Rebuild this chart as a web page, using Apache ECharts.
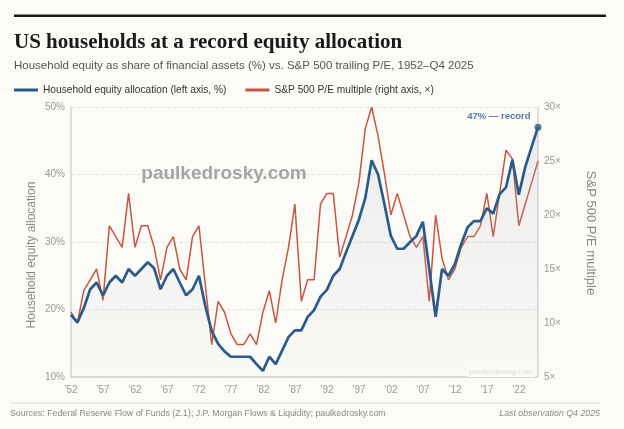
<!DOCTYPE html>
<html>
<head>
<meta charset="utf-8">
<script src="https://cdn.jsdelivr.net/npm/echarts@6/dist/echarts.min.js"></script>
<style>
  html, body { margin: 0; padding: 0; background: #fcfbf7; }
  #chart { width: 624px; height: 429px; }
</style>
</head>
<body>
<div id="chart"></div>
<script>
// annual observations, 1952 - 2025
const years = [
  1952, 1953, 1954, 1955, 1956, 1957, 1958, 1959, 1960, 1961,
  1962, 1963, 1964, 1965, 1966, 1967, 1968, 1969, 1970, 1971,
  1972, 1973, 1974, 1975, 1976, 1977, 1978, 1979, 1980, 1981,
  1982, 1983, 1984, 1985, 1986, 1987, 1988, 1989, 1990, 1991,
  1992, 1993, 1994, 1995, 1996, 1997, 1998, 1999, 2000, 2001,
  2002, 2003, 2004, 2005, 2006, 2007, 2008, 2009, 2010, 2011,
  2012, 2013, 2014, 2015, 2016, 2017, 2018, 2019, 2020, 2021,
  2022, 2023, 2024, 2025
];

// household equity as % of financial assets (left axis)
const equityShare = [
  19.2, 18.1, 20.2, 23.0, 24.0, 22.1, 24.0, 25.0, 24.0, 26.0,
  25.0, 26.0, 27.0, 26.1, 23.0, 25.0, 26.0, 24.0, 22.1, 23.0,
  25.0, 20.5, 16.8, 14.9, 13.8, 13.0, 13.0, 13.0, 13.0, 11.9,
  10.9, 13.0, 11.9, 13.9, 15.9, 16.9, 16.9, 18.9, 19.9, 21.9,
  22.9, 25.0, 26.0, 28.5, 30.9, 33.3, 36.5, 42.1, 40.0, 35.6,
  30.9, 29.0, 29.0, 30.0, 30.9, 33.0, 26.0, 18.9, 26.0, 25.0,
  26.7, 29.7, 32.2, 33.1, 33.1, 35.0, 34.2, 37.1, 38.1, 42.2,
  37.0, 41.1, 44.1, 47.0
];

// S&P 500 trailing P/E (right axis)
const peMultiple = [
  11.0, 10.0, 13.0, 14.0, 15.0, 12.1, 19.0, 18.0, 17.0, 22.0,
  17.0, 19.0, 19.0, 17.0, 14.0, 17.0, 18.0, 15.0, 14.0, 18.0,
  19.0, 13.5, 8.0, 12.0, 11.0, 9.0, 8.0, 8.0, 9.0, 8.0,
  11.0, 13.0, 10.0, 14.0, 17.0, 21.0, 12.0, 14.0, 14.0, 21.0,
  22.0, 22.0, 16.1, 18.0, 20.0, 23.0, 28.0, 30.0, 27.3, 23.8,
  20.0, 22.0, 20.0, 18.0, 17.0, 18.0, 12.0, 20.0, 16.0, 14.0,
  15.0, 17.0, 18.0, 18.0, 19.0, 22.0, 18.0, 22.0, 26.0, 25.2,
  19.0, 21.0, 23.0, 25.0
];

const equityName = 'Household equity allocation (left axis, %)';
const peName = 'S&P 500 P/E multiple (right axis, ×)';

const BLUE = '#2b5b8b';
const RED = '#c8553f';
const BG = '#fcfbf7';
const SANS = '"Liberation Sans", Arial, sans-serif';

const chart = echarts.init(document.getElementById('chart'));

const lastIdx = years.length - 1;

chart.setOption({
  backgroundColor: BG,
  textStyle: { fontFamily: SANS },
  animation: false,
  grid: { left: 71, right: 86, top: 107, bottom: 52 },
  legend: {
    data: [equityName, peName],
    left: 9,
    top: 80,
    icon: 'rect',
    itemWidth: 24,
    itemHeight: 3,
    itemGap: 19,
    textStyle: { fontSize: 10.2, color: '#333', fontFamily: SANS }
  },
  xAxis: {
    type: 'category',
    data: years,
    boundaryGap: false,
    axisLine: { lineStyle: { color: '#d4d4d4', width: 1.5 } },
    axisTick: { show: false },
    axisLabel: {
      interval: 4,
      color: '#999',
      fontSize: 10,
      margin: 8,
      formatter: v => '\u2019' + String(v).slice(2)
    },
    splitLine: { show: false }
  },
  yAxis: [
    {
      type: 'value',
      min: 10,
      max: 50,
      interval: 10,
      axisLine: { show: true, lineStyle: { color: '#d4d4d4', width: 1.5 } },
      axisTick: { show: false },
      axisLabel: { formatter: '{value}%', color: '#999', fontSize: 10, margin: 6 },
      splitLine: { lineStyle: { type: 'dashed', color: '#e3e3e3' } }
    },
    {
      type: 'value',
      min: 5,
      max: 30,
      interval: 5,
      position: 'right',
      axisLine: { show: true, lineStyle: { color: '#d4d4d4', width: 1.5 } },
      axisTick: { show: false },
      axisLabel: { formatter: '{value}×', color: '#999', fontSize: 10, margin: 6 },
      splitLine: { show: false }
    }
  ],
  series: [
    {
      name: peName,
      type: 'line',
      yAxisIndex: 1,
      data: peMultiple,
      showSymbol: false,
      itemStyle: { color: RED },
      lineStyle: { color: RED, width: 1.5 },
      z: 2
    },
    {
      name: equityName,
      type: 'line',
      yAxisIndex: 0,
      data: equityShare,
      showSymbol: false,
      itemStyle: { color: BLUE },
      lineStyle: { color: BLUE, width: 2.7 },
      areaStyle: {
        color: new echarts.graphic.LinearGradient(0, 0, 0, 1, [
          { offset: 0, color: 'rgba(175,182,198,0.30)' },
          { offset: 1, color: 'rgba(175,182,198,0.06)' }
        ])
      },
      z: 3
    },
    {
      type: 'scatter',
      yAxisIndex: 0,
      data: [[lastIdx, equityShare[lastIdx]]],
      symbolSize: 7,
      itemStyle: { color: BLUE },
      label: {
        show: true,
        position: 'left',
        distance: 4,
        offset: [0, -11],
        formatter: p => Math.round(p.value[1]) + '% \u2014 record',
        color: BLUE,
        fontSize: 9.5,
        fontWeight: 'bold'
      },
      z: 4
    }
  ],
  graphic: [
    { type: 'rect', shape: { x: 14, y: 14.5, width: 592, height: 2.5 }, style: { fill: '#1a1a1a' } },
    {
      type: 'text', x: 14, y: 43,
      style: {
        text: 'US households at a record equity allocation',
        font: 'bold 21px "Liberation Serif", "DejaVu Serif", serif',
        fill: '#1a1a1a', textVerticalAlign: 'middle'
      }
    },
    {
      type: 'text', x: 14, y: 66,
      style: {
        text: 'Household equity as share of financial assets (%) vs. S&P 500 trailing P/E, 1952\u2013Q4 2025',
        font: '11.5px ' + SANS, fill: '#555', textVerticalAlign: 'middle'
      }
    },
    // axis titles
    {
      type: 'text', x: 32, y: 255, rotation: Math.PI / 2,
      style: {
        text: 'Household equity allocation',
        font: '12px ' + SANS, fill: '#888',
        textAlign: 'center', textVerticalAlign: 'middle'
      }
    },
    {
      type: 'text', x: 591, y: 233, rotation: -Math.PI / 2,
      style: {
        text: 'S&P 500 P/E multiple',
        font: '13px ' + SANS, fill: '#888',
        textAlign: 'center', textVerticalAlign: 'middle'
      }
    },
    {
      type: 'text', x: 224, y: 174, z: 1,
      style: {
        text: 'paulkedrosky.com',
        font: 'bold 19px ' + SANS, fill: '#a5a5a5',
        textAlign: 'center', textVerticalAlign: 'middle'
      }
    },
    {
      type: 'text', x: 535, y: 372, z: 100,
      style: {
        text: 'paulkedrosky.com',
        font: '8px ' + SANS, fill: '#dcdcdc',
        textAlign: 'right', textVerticalAlign: 'middle',
        backgroundColor: BG, padding: [1, 2]
      }
    },
    { type: 'rect', shape: { x: 10, y: 402.5, width: 590, height: 1 }, style: { fill: '#dedede' } },
    {
      type: 'text', x: 10, y: 414,
      style: {
        text: 'Sources: Federal Reserve Flow of Funds (Z.1); J.P. Morgan Flows & Liquidity; paulkedrosky.com',
        font: '8.8px ' + SANS, fill: '#888', textVerticalAlign: 'middle'
      }
    },
    {
      type: 'text', x: 600, y: 414,
      style: {
        text: 'Last observation Q4 2025',
        font: 'italic 8.8px ' + SANS, fill: '#888',
        textAlign: 'right', textVerticalAlign: 'middle'
      }
    }
  ]
});

window.addEventListener('resize', () => chart.resize());
</script>
</body>
</html>
